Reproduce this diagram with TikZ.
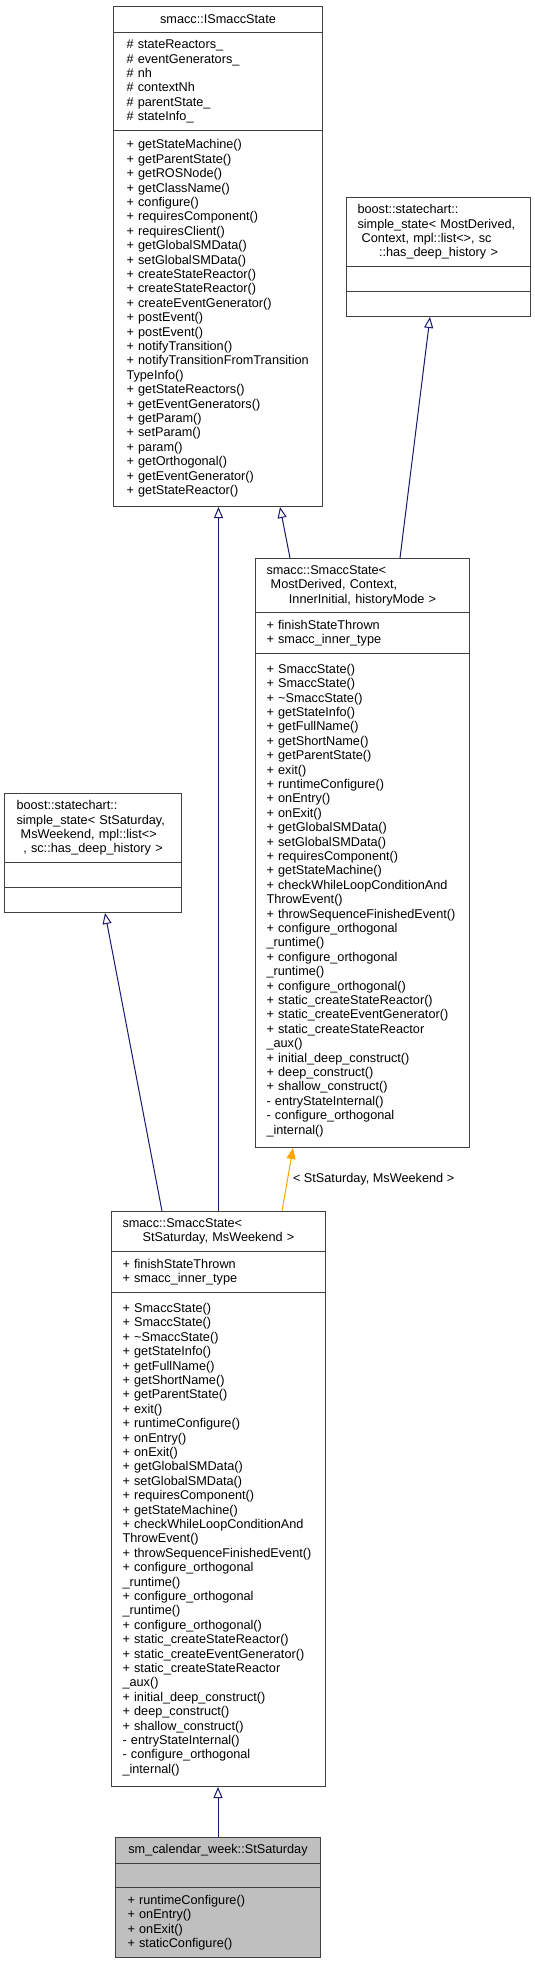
\documentclass[tikz,border=0pt]{standalone}
\usepackage{fontspec}
\setmainfont{Liberation Sans}
\usetikzlibrary{arrows.meta, calc}

\definecolor{edgeblue}{HTML}{191970}
\definecolor{tmplorange}{HTML}{FFA500}
\definecolor{clsgray}{HTML}{BFBFBF}

\tikzset{
  sect/.style={draw=black!75, line width=1pt, anchor=north west, inner sep=0pt,
    align=left, font=\fontsize{12.7}{14.4}\selectfont},
  inherit/.style={draw=edgeblue, line width=1pt,
    -{Triangle[open, length=11pt, width=9pt]}},
  instance/.style={draw=tmplorange, line width=1pt,
    -{Triangle[length=11pt, width=9pt]}},
}

\begin{document}
\begin{tikzpicture}[x=1pt, y=-1pt]
    \useasboundingbox (0,0) rectangle (535,1963);

    % smacc::ISmaccState
    \node[sect, align=center, minimum width=209, minimum height=26] (isms) at (113,6) {smacc::ISmaccState};
    \node[sect, text width=183, minimum width=209, minimum height=98] (isms-a) at (113,32)
        {\# stateReactors\_\\ \# eventGenerators\_\\ \# nh\\ \# contextNh\\ \# parentState\_\\ \# stateInfo\_};
    \node[sect, text width=183, minimum width=209, minimum height=376] (isms-m) at (113,130)
        {+ getStateMachine()\\ + getParentState()\\ + getROSNode()\\ + getClassName()\\ + configure()\\
         + requiresComponent()\\ + requiresClient()\\ + getGlobalSMData()\\ + setGlobalSMData()\\
         + createStateReactor()\\ + createStateReactor()\\ + createEventGenerator()\\ + postEvent()\\
         + postEvent()\\ + notifyTransition()\\ + notifyTransitionFromTransition\\ TypeInfo()\\
         + getStateReactors()\\ + getEventGenerators()\\ + getParam()\\ + setParam()\\ + param()\\
         + getOrthogonal()\\ + getEventGenerator()\\ + getStateReactor()};

    % boost simple_state (template)
    \node[sect, text width=162, minimum width=184, minimum height=69] (sstpl) at (346,197)
        {boost::statechart::\\ simple\_state< MostDerived,\\ \mbox{}\ Context, mpl::list<>, sc\\
         \makebox[\hsize]{::has\_deep\_history >}};
    \node[sect, minimum width=184, minimum height=25] (sstpl-a) at (346,266) {};
    \node[sect, minimum width=184, minimum height=25] (sstpl-m) at (346,291) {};

    % smacc::SmaccState (template)
    \node[sect, text width=192, minimum width=214, minimum height=54] (smtpl) at (255,558)
        {smacc::SmaccState<\\ \mbox{}\ MostDerived, Context,\\
         \makebox[\hsize]{InnerInitial, historyMode >}};
    \node[sect, text width=192, minimum width=214, minimum height=41] (smtpl-a) at (255,612)
        {+ finishStateThrown\\ + smacc\_inner\_type};
    \node[sect, text width=192, minimum width=214, minimum height=494] (smtpl-m) at (255,653)
        {+ SmaccState()\\ + SmaccState()\\ + \textasciitilde SmaccState()\\ + getStateInfo()\\ + getFullName()\\
         + getShortName()\\ + getParentState()\\ + exit()\\ + runtimeConfigure()\\ + onEntry()\\ + onExit()\\
         + getGlobalSMData()\\ + setGlobalSMData()\\ + requiresComponent()\\ + getStateMachine()\\
         + checkWhileLoopConditionAnd\\ ThrowEvent()\\ + throwSequenceFinishedEvent()\\ + configure\_orthogonal\\
         \_runtime()\\ + configure\_orthogonal\\ \_runtime()\\ + configure\_orthogonal()\\
         + static\_createStateReactor()\\ + static\_createEventGenerator()\\ + static\_createStateReactor\\
         \_aux()\\ + initial\_deep\_construct()\\ + deep\_construct()\\ + shallow\_construct()\\
         - entryStateInternal()\\ - configure\_orthogonal\\ \_internal()};

    % boost simple_state (StSaturday)
    \node[sect, text width=153, minimum width=177, minimum height=69] (sssat) at (4,793)
        {boost::statechart::\\ simple\_state< StSaturday,\\ \mbox{}\ MsWeekend, mpl::list<>\\
         \makebox[\hsize]{, sc::has\_deep\_history >}};
    \node[sect, minimum width=177, minimum height=25] (sssat-a) at (4,862) {};
    \node[sect, minimum width=177, minimum height=25] (sssat-m) at (4,887) {};

    % smacc::SmaccState (StSaturday)
    \node[sect, text width=192, minimum width=214, minimum height=40] (smsat) at (111,1211)
        {smacc::SmaccState<\\ \makebox[\hsize]{StSaturday, MsWeekend >}};
    \node[sect, text width=192, minimum width=214, minimum height=41] (smsat-a) at (111,1251)
        {+ finishStateThrown\\ + smacc\_inner\_type};
    \node[sect, text width=192, minimum width=214, minimum height=494] (smsat-m) at (111,1292)
        {+ SmaccState()\\ + SmaccState()\\ + \textasciitilde SmaccState()\\ + getStateInfo()\\ + getFullName()\\
         + getShortName()\\ + getParentState()\\ + exit()\\ + runtimeConfigure()\\ + onEntry()\\ + onExit()\\
         + getGlobalSMData()\\ + setGlobalSMData()\\ + requiresComponent()\\ + getStateMachine()\\
         + checkWhileLoopConditionAnd\\ ThrowEvent()\\ + throwSequenceFinishedEvent()\\ + configure\_orthogonal\\
         \_runtime()\\ + configure\_orthogonal\\ \_runtime()\\ + configure\_orthogonal()\\
         + static\_createStateReactor()\\ + static\_createEventGenerator()\\ + static\_createStateReactor\\
         \_aux()\\ + initial\_deep\_construct()\\ + deep\_construct()\\ + shallow\_construct()\\
         - entryStateInternal()\\ - configure\_orthogonal\\ \_internal()};

    % sm_calendar_week::StSaturday
    \node[sect, fill=clsgray, align=center, minimum width=205, minimum height=26] (stsat) at (115,1837)
        {sm\_calendar\_week::StSaturday};
    \node[sect, fill=clsgray, minimum width=205, minimum height=24] (stsat-a) at (115,1863) {};
    \node[sect, fill=clsgray, text width=181, minimum width=205, minimum height=70] (stsat-m) at (115,1887)
        {+ runtimeConfigure()\\ + onEntry()\\ + onExit()\\ + staticConfigure()};

    % inheritance
    \draw[inherit] ($(smtpl.north west)+(35,0)$) -- ($(isms-m.south west)+(167,0)$);
    \draw[inherit] ($(smtpl.north west)+(145,0)$) -- ($(sstpl-m.south west)+(84,0)$);
    \draw[inherit] ($(smsat.north west)+(51,0)$) -- ($(sssat-m.south west)+(101,0)$);
    \draw[inherit] (smsat.north) -- (smsat.north |- isms-m.south);
    \draw[instance] ($(smsat.north west)+(171,0)$) --
        node[right, inner sep=5pt, text=black, font=\fontsize{12.7}{14.4}\selectfont] {< StSaturday, MsWeekend >}
        ($(smtpl-m.south west)+(38,0)$);
    \draw[inherit] (stsat.north) -- (stsat.north |- smsat-m.south);
\end{tikzpicture}
\end{document}
